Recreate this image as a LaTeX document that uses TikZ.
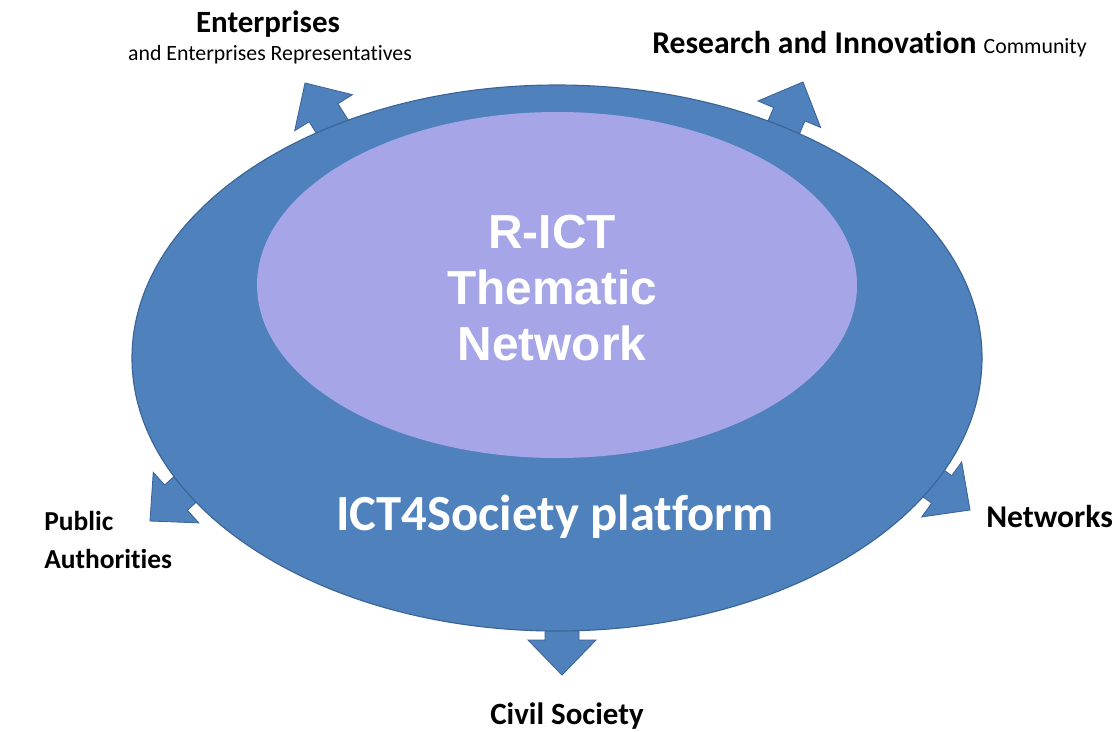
\documentclass[tikz,border=0pt]{standalone}
\usepackage{fontspec}
\setmainfont[Ligatures=NoCommon]{Carlito}
\newfontfamily\arialfont{Liberation Sans}

\definecolor{platformblue}{HTML}{4F81BD}
\definecolor{platformedge}{HTML}{3A6496}
\definecolor{rictviolet}{HTML}{A5A5E8}

\tikzset{
  arrowshape/.style={fill=platformblue, draw=platformedge, line width=0.6pt, line join=miter},
  actor/.style={font=\bfseries\fontsize{22}{27}\selectfont, inner sep=0pt},
}

% block arrow: tip x, tip y, direction angle
\newcommand{\outarrow}[3]{%
  \begin{scope}[shift={(#1,#2)}, rotate=#3]
    \filldraw[arrowshape] (0,0) -- (-35,34) -- (-35,17) -- (-95,17) -- (-95,-17) -- (-35,-17) -- (-35,-34) -- cycle;
  \end{scope}}

\begin{document}
\begin{tikzpicture}[x=0.025cm, y=-0.025cm]
    \useasboundingbox (0,0) rectangle (1115,731);

    % arrows towards the communities
    \outarrow{305}{83}{122}
    \outarrow{803}{82}{67}
    \outarrow{150}{521}{222}
    \outarrow{970}{510}{324}
    \outarrow{562}{675}{270}

    % platform and network
    \filldraw[fill=platformblue, draw=platformedge, line width=0.8pt] (557,358) ellipse [x radius=425, y radius=273];
    \fill[rictviolet] (557,285) ellipse [x radius=300, y radius=173];

    \node[white, align=center, font=\arialfont\bfseries\fontsize{34}{40}\selectfont] (rict) at (552,288) {R-ICT\\Thematic\\Network};
    \node[white, anchor=base, font=\bfseries\fontsize{36}{40}\selectfont, inner sep=0pt] (platform) at (555,530) {ICT4Society platform};

    % communities
    \node[actor, anchor=base] (enterprises) at (268,32) {Enterprises};
    \node[anchor=base, inner sep=0pt, font=\fontsize{15.5}{18}\selectfont] (representatives) at (270,60) {and Enterprises Representatives};
    \node[actor, anchor=base west, font=\bfseries\fontsize{22.5}{27}\selectfont] (research) at (652,53) {Research and Innovation {\mdseries\fontsize{15.5}{18}\selectfont Community}};
    \node[actor, anchor=base west, align=left, font=\bfseries\fontsize{19.5}{27}\selectfont] (public) at (44,568) {Public\\Authorities};
    \node[actor, anchor=base west, font=\bfseries\fontsize{22.5}{27}\selectfont] (networks) at (986,527) {Networks};
    \node[actor, anchor=base] (civil) at (567,724) {Civil Society};

\end{tikzpicture}
\end{document}
